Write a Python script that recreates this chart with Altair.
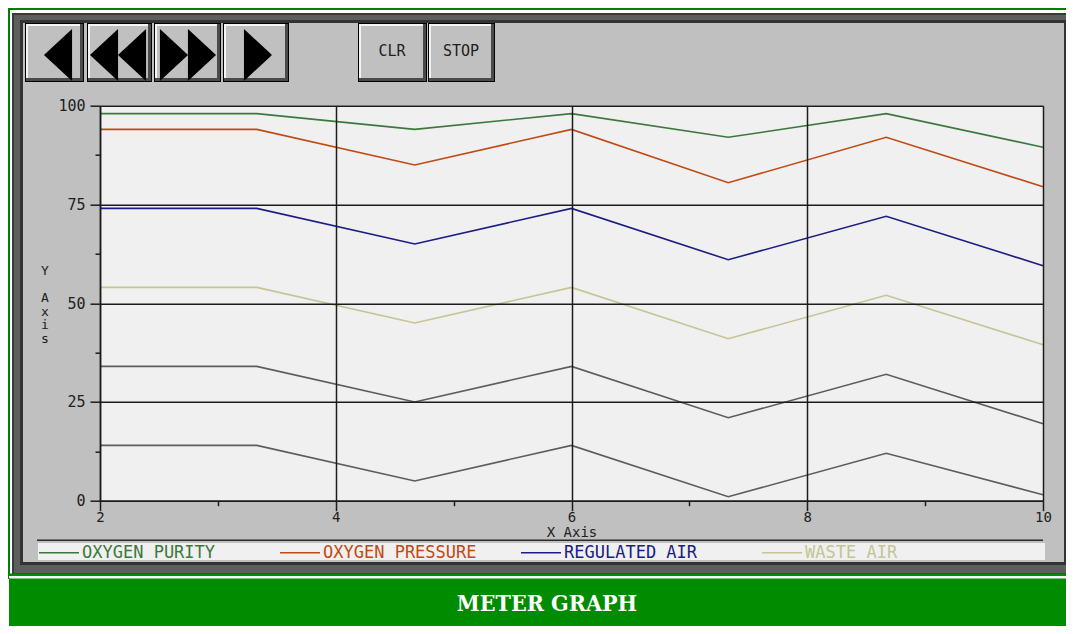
import altair as alt
import pandas as pd

# ---------------- data ----------------
x_values = [2, 3.33, 4.67, 6, 7.33, 8.67, 10]
oxygen_purity = [98, 98, 94, 98, 92, 98, 89.5]
oxygen_pressure = [94, 94, 85, 94, 80.5, 92, 79.5]
regulated_air = [74, 74, 65, 74, 61, 72, 59.5]
waste_air = [54, 54, 45, 54, 41, 52, 39.5]
series_5 = [34, 34, 25, 34, 21, 32, 19.5]
series_6 = [14, 14, 5, 14, 1, 12, 1.5]

series_names = ["OXYGEN PURITY", "OXYGEN PRESSURE", "REGULATED AIR", "WASTE AIR", "SERIES 5", "SERIES 6"]
series_values = [oxygen_purity, oxygen_pressure, regulated_air, waste_air, series_5, series_6]
series_colors = ["#3c783c", "#c04a14", "#1c1c84", "#c4c494", "#5c5c5c", "#5c5c5c"]
legend_names = series_names[:4]

x_ticks = [2, 3, 4, 5, 6, 7, 8, 9, 10]
y_ticks = [0, 12.5, 25, 37.5, 50, 62.5, 75, 87.5, 100]
button_labels = ["CLR", "STOP"]
title_text = "METER GRAPH"
x_title = "X Axis"
y_title_letters = ["Y", "A", "x", "i", "s"]

rows = []
for name, vals in zip(series_names, series_values):
    for xv, yv in zip(x_values, vals):
        rows.append({"series": name, "x": xv, "y": yv})
df = pd.DataFrame(rows)

# ---------------- layout helpers (page pixel coords) ----------------
W, H = 943, 395
OX, OY = 100, 105.7  # page position of plot origin
MONO = "DejaVu Sans Mono"
ONE = alt.Data(values=[{}])
RIGHT_EDGE, BOTTOM_EDGE = 1066, 626


def box(x1, y1, x2, y2, color):
    return alt.Chart(ONE).mark_rect(color=color, strokeWidth=0, opacity=1).encode(
        x=alt.value(x1 - OX), x2=alt.value(x2 - OX),
        y=alt.value(y1 - OY), y2=alt.value(y2 - OY))


def label(x, y, text, size=15, color="#202020", font=MONO, weight="normal",
          align="center", baseline="middle"):
    return alt.Chart(ONE).mark_text(
        font=font, fontSize=size, color=color, fontWeight=weight,
        align=align, baseline=baseline).encode(
        x=alt.value(x - OX), y=alt.value(y - OY), text=alt.value(text))


LEFT_TRI = "M -0.54 0 L 0.54 -1 L 0.54 1 Z"
RIGHT_TRI = "M 0.54 0 L -0.54 -1 L -0.54 1 Z"


def tri(x1, x2, y, shape):
    return alt.Chart(ONE).mark_point(
        shape=shape, size=2704, filled=True, color="black", opacity=1, strokeWidth=0).encode(
        x=alt.value((x1 + x2) / 2 - OX), y=alt.value(y - OY))


def button(x1, y1, x2, y2):
    return [
        box(x1, y1, x2, y2, "#000000"),
        box(x1 + 1, y1 + 1, x2 - 1, y2 - 1, "#4a4a4a"),
        box(x1 + 1, y1 + 1, x2 - 4, y2 - 4, "#f4f4f4"),
        box(x1 + 3, y1 + 3, x2 - 4, y2 - 4, "#c0c0c0"),
    ]


layers = []
# outer frame
layers += [
    box(8, 8, RIGHT_EDGE, 10, "#008000"),
    box(8, 8, 10, 579, "#008000"),
    box(12, 13, RIGHT_EDGE, 575, "#3a3a3a"),
    box(14, 15, RIGHT_EDGE, 573, "#5e5e5e"),
    box(20, 20, RIGHT_EDGE, 565, "#333333"),
    box(23, 23, 1064, 562, "#c0c0c0"),
    box(9, 573.5, RIGHT_EDGE, 576, "#008c00"),
    box(9, 576, RIGHT_EDGE, 578.5, "#f4f4f4"),
    box(9, 578.5, RIGHT_EDGE, BOTTOM_EDGE, "#008c00"),
]
# buttons
btns = [(25, 23, 84, 82), (87, 23, 152, 82), (154, 23, 221, 82), (223, 23, 289, 82),
        (358, 23, 427, 82), (428, 23, 495, 82)]
for b in btns:
    layers += button(*b)
layers += [
    tri(44, 72, 55, LEFT_TRI),
    tri(90, 118, 55, LEFT_TRI), tri(118, 146, 55, LEFT_TRI),
    tri(160, 188, 55, RIGHT_TRI), tri(188, 216, 55, RIGHT_TRI),
    tri(244, 272, 55, RIGHT_TRI),
    label(392, 51, button_labels[0]),
    label(461, 51, button_labels[1]),
]
# plot background
layers.append(box(100, 105.7, 1043, 500.7, "#f0f0f0"))
# legend strip
layers += [box(37, 539.5, 1043, 541, "#2a2a2a"), box(38, 543, 1045, 560, "#f0f0f0")]
# title
layers.append(label(547, 604, title_text, size=23, color="#ffffff",
                    font="DejaVu Serif Condensed, Liberation Serif, serif", weight="bold"))
# vertical y-axis title, one letter per line (blank line after "Y")
for letter, base in zip(y_title_letters, [275, 302, 315.5, 329, 342.5]):
    layers.append(label(45, base, letter, size=13, baseline="alphabetic"))

major_x = "datum.value % 2 == 0"
major_y = "datum.value % 25 == 0"

lines = alt.Chart(df).mark_line(strokeWidth=1.6).encode(
    x=alt.X("x:Q", scale=alt.Scale(domain=[2, 10], nice=False, zero=False),
            axis=alt.Axis(values=x_ticks, title=x_title, grid=True, zindex=1,
                          tickSize={"condition": {"test": major_x, "value": 10}, "value": 5},
                          gridOpacity={"condition": {"test": major_x, "value": 1}, "value": 0},
                          labelExpr=f"{major_x} ? datum.label : ''",
                          labelOverlap=False,
                          labelPadding=0, labelFlush=False, labelFontSize=14,
                          titlePadding=1,
                          titleFont=MONO, titleFontSize=14, titleFontWeight="normal",
                          titleColor="#202020")),
    y=alt.Y("y:Q", scale=alt.Scale(domain=[0, 100], nice=False, zero=False),
            axis=alt.Axis(values=y_ticks, grid=True, zindex=1, title=None,
                          tickSize={"condition": {"test": major_y, "value": 10}, "value": 5},
                          gridOpacity={"condition": {"test": major_y, "value": 1}, "value": 0},
                          labelExpr=f"{major_y} ? datum.label : ''",
                          labelOverlap=False,
                          labelPadding=5, labelFlush=False, labelFontSize=15)),
    color=alt.Color("series:N",
                    scale=alt.Scale(domain=series_names, range=series_colors),
                    legend=alt.Legend(orient="none", legendX=-62, legendY=426,
                                      direction="horizontal", columns=4, gridAlign="all",
                                      columnPadding=41, values=legend_names, title=None,
                                      symbolType="stroke", symbolSize=1600,
                                      symbolStrokeWidth=1.5, labelOffset=2,
                                      labelFont=MONO, labelFontSize=17,
                                      labelColor={"expr": "scale('color', datum.value)"},
                                      padding=0, zindex=1)),
)
layers.append(lines)

chart = alt.layer(*layers).properties(
    width=W, height=H,
    autosize=alt.AutoSizeParams(type="none"),
    padding={"left": 92, "top": 97.7, "right": RIGHT_EDGE - 8 - 92 - W,
             "bottom": BOTTOM_EDGE - 8 - 97.7 - H},
    background="#ffffff",
).configure_view(stroke=None).configure_axis(
    domainColor="#1c1c1c", domainWidth=1.5, tickColor="#1c1c1c", tickWidth=1.5,
    gridColor="#1c1c1c", gridWidth=1.5, labelFont=MONO,
    labelColor="#202020",
)

chart.save("out.html", embed_options={"renderer": "svg", "actions": False})
